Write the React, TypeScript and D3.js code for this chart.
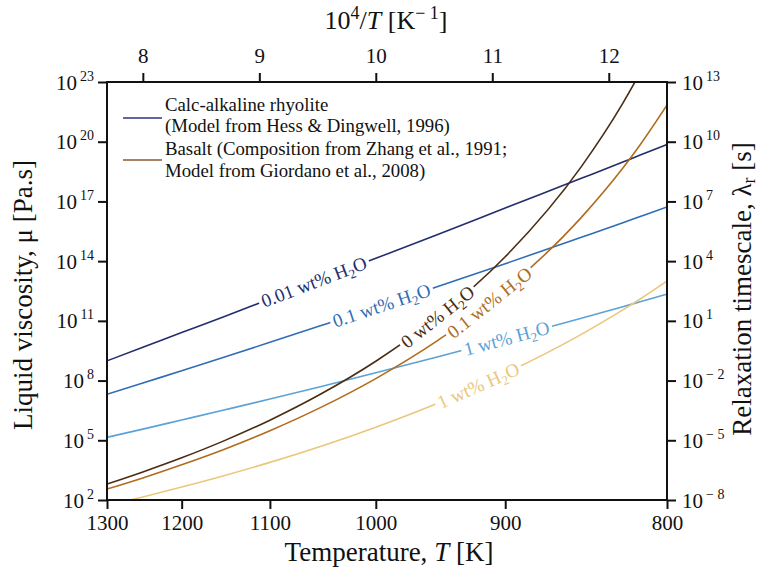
import React, { useEffect, useRef } from 'react';
import * as d3 from 'd3';

const temps = [1300, 1250, 1200, 1150, 1100, 1050, 1000, 950, 900, 850, 825, 815, 800];

// log10 of liquid viscosity (Pa.s)
const rhyolite001 = [8.99, 9.67, 10.41, 11.21, 12.1, 13.07, 14.14, 15.33, 16.67, 18.16, 18.98, 19.33, 19.86];
const rhyolite01 = [7.31, 7.88, 8.49, 9.17, 9.92, 10.75, 11.67, 12.71, 13.87, 15.2, 15.93, 16.24, 16.72];
const rhyolite1 = [5.15, 5.56, 6.02, 6.52, 7.07, 7.69, 8.39, 9.18, 10.09, 11.13, 11.71, 11.96, 12.34];
const basalt0 = [2.8, 3.41, 4.12, 4.97, 6.01, 7.31, 8.97, 11.17, 14.22, 18.75, 21.94, 23.48, 26.15];
const basalt01 = [2.55, 3.11, 3.77, 4.54, 5.48, 6.64, 8.1, 9.99, 12.55, 16.2, 18.68, 19.85, 21.84];
const basalt1 = [1.72, 2.15, 2.65, 3.22, 3.89, 4.69, 5.66, 6.85, 8.36, 10.32, 11.55, 12.1, 13.0];

// inline labels: water content and temperature where the label sits
const waterLabels = ['0.01', '0.1', '1', '0', '0.1', '1'];
const labelTemps = [1056, 995, 899, 949.5, 911, 919];

// axis ticks
const tempTicks = [1300, 1200, 1100, 1000, 900, 800];
const invTicks = [8, 9, 10, 11, 12];
const viscTicks = [2, 5, 8, 11, 14, 17, 20, 23];
const relaxTicks = [-8, -5, -2, 1, 4, 7, 10, 13];

const legendLines = [
  ['Calc-alkaline rhyolite', '(Model from Hess & Dingwell, 1996)'],
  ['Basalt (Composition from Zhang et al., 1991;', 'Model from Giordano et al., 2008)'],
];

const W = 762;
const H = 571;
const FONT = '"Liberation Serif", "DejaVu Serif", "Times New Roman", serif';

export default function App() {
  const ref = useRef<SVGSVGElement>(null);

  useEffect(() => {
    const svg = d3.select(ref.current);
    svg.selectAll('*').remove();
    svg.attr('font-family', FONT);

    const left = 107, right = 667, top = 82, bottom = 500;

    // x is linear in 10^4/T
    const x = d3.scaleLinear().domain([1e4 / 1300, 12.5]).range([left, right]);
    const y = d3.scaleLinear().domain([2, 23]).range([bottom, top]);
    const yR = d3.scaleLinear().domain([-8, 13]).range([bottom, top]);

    const defs = svg.append('defs');
    defs.append('clipPath').attr('id', 'plotClip')
      .append('rect')
      .attr('x', left).attr('y', top)
      .attr('width', right - left).attr('height', bottom - top);

    const series = [
      { vals: rhyolite001, color: '#222d6c' },
      { vals: rhyolite01, color: '#2f6db5' },
      { vals: rhyolite1, color: '#5ba2d6' },
      { vals: basalt0, color: '#4a2c12' },
      { vals: basalt01, color: '#b06c1e' },
      { vals: basalt1, color: '#eac77b' },
    ];

    const line = d3.line<[number, number]>()
      .x(d => x(1e4 / d[0]))
      .y(d => y(d[1]))
      .curve(d3.curveMonotoneX);

    const plot = svg.append('g').attr('clip-path', 'url(#plotClip)');
    const labelLayer = svg.append('g');

    series.forEach((s, i) => {
      const pts: [number, number][] = temps.map((t, j) => [t, s.vals[j]]);
      const maskId = 'gap' + i;
      const mask = defs.append('mask').attr('id', maskId)
        .attr('maskUnits', 'userSpaceOnUse')
        .attr('x', 0).attr('y', 0).attr('width', W).attr('height', H);
      mask.append('rect').attr('x', 0).attr('y', 0).attr('width', W).attr('height', H).attr('fill', 'white');

      const path = plot.append('path')
        .attr('d', line(pts))
        .attr('fill', 'none')
        .attr('stroke', s.color)
        .attr('stroke-width', 1.6)
        .attr('mask', `url(#${maskId})`);

      // find the point on the curve at the label temperature
      const node = path.node() as SVGPathElement;
      const total = node.getTotalLength();
      const tx = x(1e4 / labelTemps[i]);
      let lo = 0, hi = total;
      for (let k = 0; k < 40; k++) {
        const mid = (lo + hi) / 2;
        if (node.getPointAtLength(mid).x < tx) lo = mid; else hi = mid;
      }
      const L = (lo + hi) / 2;
      const p = node.getPointAtLength(L);
      const p1 = node.getPointAtLength(Math.max(0, L - 4));
      const p2 = node.getPointAtLength(Math.min(total, L + 4));
      const ang = Math.atan2(p2.y - p1.y, p2.x - p1.x) * 180 / Math.PI;

      const text = labelLayer.append('text')
        .attr('transform', `translate(${p.x},${p.y}) rotate(${ang})`)
        .attr('text-anchor', 'middle')
        .attr('dy', '0.33em')
        .attr('font-size', 19)
        .attr('fill', s.color);
      text.append('tspan').text(`${waterLabels[i]} wt% H`);
      text.append('tspan').attr('dy', 4).attr('font-size', 13).text('2');
      text.append('tspan').attr('dy', -4).text('O');

      const len = (text.node() as SVGTextElement).getComputedTextLength();
      mask.append('rect')
        .attr('transform', `translate(${p.x},${p.y}) rotate(${ang})`)
        .attr('x', -len / 2 - 3).attr('y', -8)
        .attr('width', len + 6).attr('height', 16)
        .attr('fill', 'black');
    });

    // frame
    svg.append('rect')
      .attr('x', left).attr('y', top)
      .attr('width', right - left).attr('height', bottom - top)
      .attr('fill', 'none').attr('stroke', '#111').attr('stroke-width', 2);

    const tickLen = 9;
    const styleAxis = (g: any) => {
      g.attr('font-family', FONT);
      g.select('.domain').remove();
      g.selectAll('.tick line').attr('stroke', '#111').attr('stroke-width', 2);
      g.selectAll('.tick text').remove();
    };

    // bottom axis: temperature
    const bottomAxis = svg.append('g')
      .attr('transform', `translate(0,${bottom})`)
      .call(d3.axisBottom(x).tickValues(tempTicks.map(t => 1e4 / t)).tickSize(tickLen).tickSizeOuter(0))
      .call(styleAxis);
    bottomAxis.selectAll('.tick').append('text')
      .attr('y', 30).attr('text-anchor', 'middle')
      .attr('font-size', 21).attr('fill', '#111')
      .text((d: any) => String(Math.round(1e4 / d)));

    // top axis: 10^4/T
    const topAxis = svg.append('g')
      .attr('transform', `translate(0,${top})`)
      .call(d3.axisTop(x).tickValues(invTicks).tickSize(tickLen).tickSizeOuter(0))
      .call(styleAxis);
    topAxis.selectAll('.tick').append('text')
      .attr('y', -19).attr('text-anchor', 'middle')
      .attr('font-size', 21).attr('fill', '#111')
      .text((d: any) => String(d));

    // power-of-ten labels
    const powLabel = (sel: any, anchor: string, xOff: number) => {
      sel.each(function (this: any, d: any) {
        const t = d3.select(this).append('text')
          .attr('x', xOff).attr('y', 7)
          .attr('text-anchor', anchor)
          .attr('font-size', 21).attr('fill', '#111');
        t.append('tspan').text('10');
        const exp = d < 0 ? '\u2212 ' + Math.abs(d) : String(d);
        t.append('tspan').attr('dx', 3).attr('dy', -9).attr('font-size', 14).text(exp);
      });
    };

    const leftAxis = svg.append('g')
      .attr('transform', `translate(${left},0)`)
      .call(d3.axisLeft(y).tickValues(viscTicks).tickSize(tickLen).tickSizeOuter(0))
      .call(styleAxis);
    powLabel(leftAxis.selectAll('.tick'), 'end', -13);

    const rightAxis = svg.append('g')
      .attr('transform', `translate(${right},0)`)
      .call(d3.axisRight(yR).tickValues(relaxTicks).tickSize(tickLen).tickSizeOuter(0))
      .call(styleAxis);
    powLabel(rightAxis.selectAll('.tick'), 'start', 15);

    // axis titles
    const bt = svg.append('text')
      .attr('x', 389).attr('y', 561)
      .attr('text-anchor', 'middle').attr('font-size', 27).attr('fill', '#111');
    bt.append('tspan').text('Temperature, ');
    bt.append('tspan').attr('font-style', 'italic').text('T');
    bt.append('tspan').text(' [K]');

    const tt = svg.append('text')
      .attr('x', 386).attr('y', 29)
      .attr('text-anchor', 'middle').attr('font-size', 26).attr('fill', '#111');
    tt.append('tspan').text('10');
    tt.append('tspan').attr('dy', -10).attr('font-size', 18).text('4');
    tt.append('tspan').attr('dy', 10).text('/');
    tt.append('tspan').attr('font-style', 'italic').text('T');
    tt.append('tspan').text(' [K');
    tt.append('tspan').attr('dy', -10).attr('font-size', 18).text('\u2212 1');
    tt.append('tspan').attr('dy', 10).text(']');

    svg.append('text')
      .attr('transform', 'translate(32,295) rotate(-90)')
      .attr('text-anchor', 'middle').attr('font-size', 27).attr('fill', '#111')
      .text('Liquid viscosity, \u03bc [Pa.s]');

    const rt = svg.append('text')
      .attr('transform', 'translate(751,289) rotate(-90)')
      .attr('text-anchor', 'middle').attr('font-size', 27).attr('fill', '#111');
    rt.append('tspan').text('Relaxation timescale, \u03bb');
    rt.append('tspan').attr('dy', 4).attr('font-size', 18).text('r');
    rt.append('tspan').attr('dy', -4).text(' [s]');

    // legend
    const legendColors = ['#2a3585', '#8a5a2c'];
    const legendLineY = [118, 160];
    const legendTextY = [[111, 132], [155, 177]];
    legendLines.forEach((rows, i) => {
      svg.append('line')
        .attr('x1', 123).attr('x2', 162)
        .attr('y1', legendLineY[i]).attr('y2', legendLineY[i])
        .attr('stroke', legendColors[i]).attr('stroke-width', 1.6);
      rows.forEach((r, j) => {
        svg.append('text')
          .attr('x', 165).attr('y', legendTextY[i][j])
          .attr('font-size', 18.8).attr('fill', '#111')
          .text(r);
      });
    });
  }, []);

  return (
    <svg
      ref={ref}
      width={W}
      height={H}
      style={{ position: 'absolute', left: 0, top: 0, background: '#fff' }}
    />
  );
}
